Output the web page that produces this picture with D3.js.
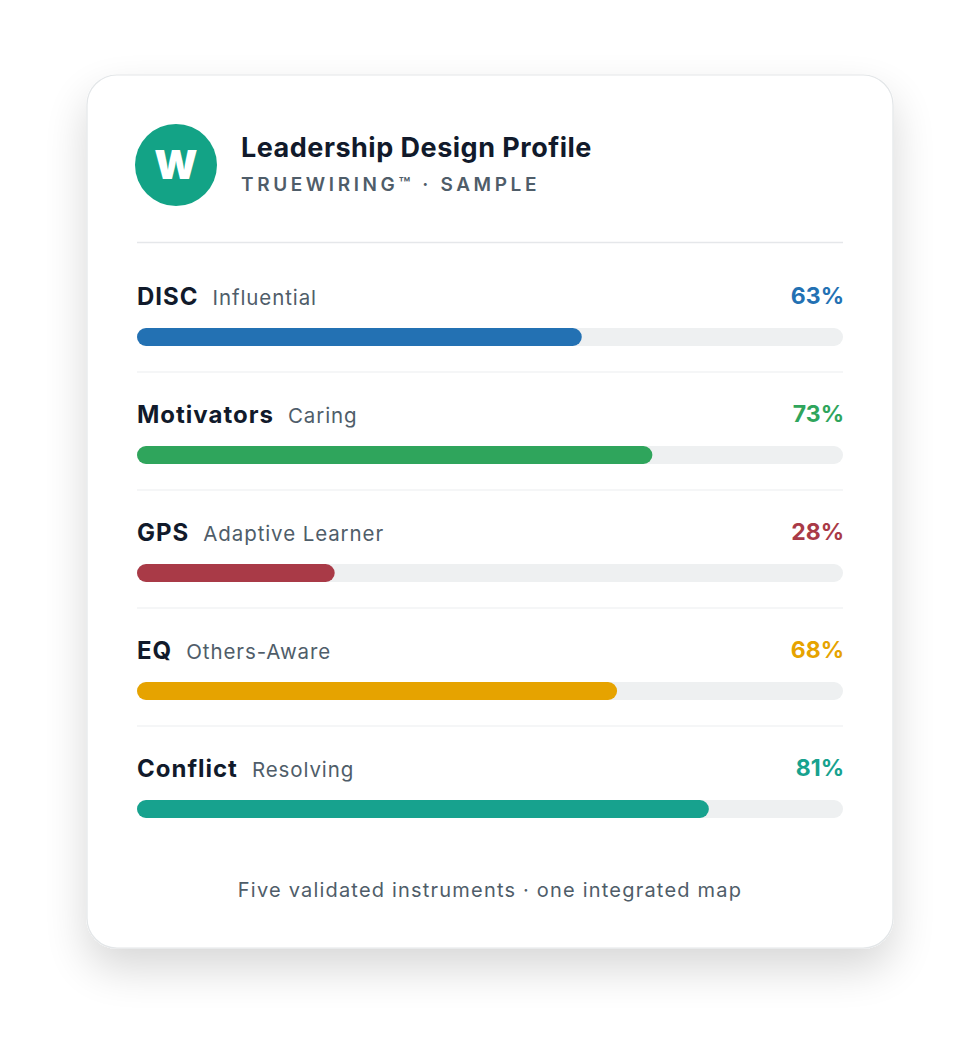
<!DOCTYPE html>
<html><head><meta charset="utf-8">
<script src="https://cdn.jsdelivr.net/npm/d3@7"></script>
<style>html,body{margin:0;padding:0;background:#fff;}svg{display:block;}</style>
</head><body>
<svg id="chart" width="980" height="1054"></svg>
<script>
const categories = ["DISC","Motivators","GPS","EQ","Conflict"];
const styles = ["Influential","Caring","Adaptive Learner","Others-Aware","Resolving"];
const values = [63,73,28,68,81];
const colors = ["#2371b3","#2fa55c","#a93a47","#e6a300","#17a28e"];
const title = "Leadership Design Profile";
const subtitle = "TRUEWIRING™ · SAMPLE";
const footer = "Five validated instruments · one integrated map";

const font = "Inter, 'Noto Sans', sans-serif";
const svg = d3.select("#chart");
const defs = svg.append("defs");
const f = defs.append("filter").attr("id","shadow").attr("x","-30%").attr("y","-30%").attr("width","160%").attr("height","170%");
f.append("feGaussianBlur").attr("in","SourceAlpha").attr("stdDeviation",22).attr("result","b");
f.append("feOffset").attr("dy",20).attr("result","o");
f.append("feComponentTransfer").append("feFuncA").attr("type","linear").attr("slope",0.16);
const m = f.append("feMerge"); m.append("feMergeNode"); m.append("feMergeNode").attr("in","SourceGraphic");

svg.append("rect").attr("x",87).attr("y",75).attr("width",806).attr("height",873).attr("rx",30)
  .attr("fill","#fff").attr("stroke","#e3e6e8").attr("stroke-width",1.2).attr("filter","url(#shadow)");

svg.append("circle").attr("cx",176).attr("cy",165).attr("r",41).attr("fill","#13a386");
svg.append("text").attr("x",176).attr("y",179).attr("text-anchor","middle").attr("fill","#fff")
  .attr("font-family",font).attr("font-weight",900).attr("font-size",40).text("W");
svg.append("text").attr("x",241).attr("y",157).attr("fill","#111a2b").attr("font-family",font)
  .attr("font-weight",700).attr("font-size",27).attr("letter-spacing",0.5).text(title);
svg.append("text").attr("x",241).attr("y",191).attr("fill","#4f5d69").attr("font-family",font)
  .attr("font-weight",600).attr("font-size",19).attr("letter-spacing",3.6).text(subtitle);

const x0 = 137, x1 = 843;
svg.append("line").attr("x1",x0).attr("x2",x1).attr("y1",242.5).attr("y2",242.5).attr("stroke","#e5e7ea").attr("stroke-width",1.5);

const x = d3.scaleLinear().domain([0,100]).range([x0,x1]);
const y = d3.scaleBand().domain(categories).range([254,844]).paddingInner(0);
const data = categories.map((c,i)=>({c,s:styles[i],v:values[i],col:colors[i]}));
const rows = svg.selectAll("g.row").data(data).join("g").attr("class","row")
  .attr("transform",d=>`translate(0,${y(d.c)})`);
rows.filter((d,i)=>i>0).append("line").attr("x1",x0).attr("x2",x1).attr("y1",0).attr("y2",0).attr("stroke","#eceef0").attr("stroke-width",1.2);
rows.append("rect").attr("x",x0).attr("y",74).attr("width",x(100)-x0).attr("height",18).attr("rx",9).attr("fill","#eef0f1");
rows.append("rect").attr("x",x0).attr("y",74).attr("width",d=>x(d.v)-x0).attr("height",18).attr("rx",9).attr("fill",d=>d.col);
const lab = rows.append("text").attr("x",x0).attr("y",51).attr("font-family",font);
lab.append("tspan").attr("font-weight",700).attr("font-size",24).attr("letter-spacing",1).attr("fill","#111a2b").text(d=>d.c);
lab.append("tspan").attr("dx",14).attr("font-weight",400).attr("font-size",20.5).attr("letter-spacing",0.9).attr("fill","#4f5d69").text(d=>d.s);
rows.append("text").attr("x",x1+1).attr("y",50).attr("text-anchor","end").attr("font-family",font)
  .attr("font-weight",700).attr("font-size",23).attr("fill",d=>d.col).text(d=>d.v+"%");

svg.append("text").attr("x",490).attr("y",897).attr("text-anchor","middle").attr("font-family",font)
  .attr("font-size",20).attr("letter-spacing",1.2).attr("fill","#4f5d69").text(footer);
</script>
</body></html>
